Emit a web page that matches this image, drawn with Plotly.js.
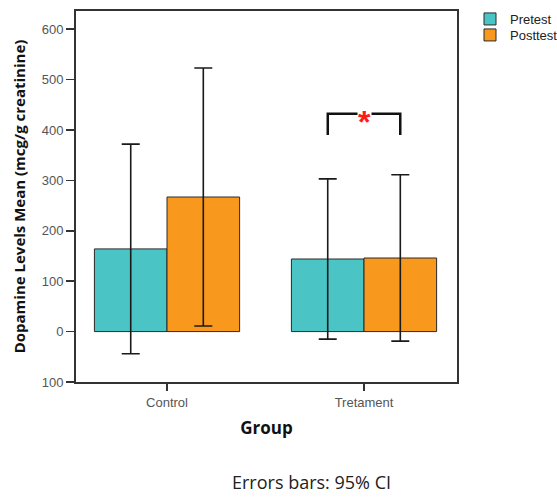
<!DOCTYPE html>
<html>
<head>
<meta charset="utf-8">
<script src="https://cdn.plot.ly/plotly-3.0.1.min.js"></script>
<style>html,body{margin:0;padding:0;background:#fff;}#chart{width:557px;height:497px;}</style>
</head>
<body>
<div id="chart"></div>
<script>
var groups = ["Control", "Tretament"];
var pretestMean = [164, 144];
var pretestCI = [208, 159];
var posttestMean = [267, 146];
var posttestCI = [256, 165];
var yTickVals = [-100, 0, 100, 200, 300, 400, 500, 600];
var yTickText = ["100", "0", "100", "200", "300", "400", "500", "600"];

var ML = 76, MR = 100, MT = 11, MB = 115, W = 557, H = 497;
var plotW = W - ML - MR, plotH = H - MT - MB;
function px(x) { return (x - ML) / plotW; }
function py(y) { return (H - MB - y) / plotH; }

var tickFont = {family: "Liberation Sans, Arial, sans-serif", size: 13, color: "#555"};
var legFont = {family: "Liberation Sans, Arial, sans-serif", size: 13, color: "#222"};
var errStyle = {type: "data", visible: true, color: "#1a1a1a", thickness: 1.6, width: 9};

var traces = [
  {type: "bar", name: "Pretest", x: groups, y: pretestMean, legend: "legend",
   marker: {color: "#4BC4C6", line: {color: "#2a2a2a", width: 1}},
   error_y: Object.assign({array: pretestCI}, errStyle)},
  {type: "bar", name: "Posttest", x: groups, y: posttestMean, legend: "legend2",
   marker: {color: "#F8991E", line: {color: "#2a2a2a", width: 1}},
   error_y: Object.assign({array: posttestCI}, errStyle)}
];

var bx0 = 1 - 0.184, bx1 = 1 + 0.184;
var layout = {
  width: W, height: H,
  margin: {l: ML, r: MR, t: MT, b: MB, autoexpand: false},
  paper_bgcolor: "#fff", plot_bgcolor: "#fff",
  barmode: "group", bargap: 0.263, bargroupgap: 0,
  showlegend: true,
  legend: {x: px(470), y: py(4), xanchor: "left", yanchor: "top", font: legFont,
           itemwidth: 30, bgcolor: "rgba(0,0,0,0)", borderwidth: 0},
  legend2: {x: px(470), y: py(20), xanchor: "left", yanchor: "top", font: legFont,
           itemwidth: 30, bgcolor: "rgba(0,0,0,0)", borderwidth: 0},
  xaxis: {type: "category", range: [-0.462, 1.472], showgrid: false, zeroline: false,
          showline: true, linecolor: "#333", linewidth: 2, mirror: true,
          ticks: "outside", ticklen: 7, tickwidth: 1.5, tickcolor: "#333",
          tickfont: tickFont,
          title: {text: "Group", font: {family: "Open Sans, sans-serif", size: 17, color: "#111", weight: "bold"}, standoff: 14}},
  yaxis: {range: [-100, 636], showgrid: false, zeroline: false,
          showline: true, linecolor: "#333", linewidth: 2, mirror: true,
          ticks: "outside", ticklen: 8, tickwidth: 1.5, tickcolor: "#333",
          tickvals: yTickVals, ticktext: yTickText, tickfont: tickFont,
          title: {text: "Dopamine Levels Mean (mcg/g creatinine)", font: {family: "Open Sans, sans-serif", size: 15, color: "#111", weight: "bold"}, standoff: 12}},
  shapes: [
    {type: "path", xref: "x", yref: "y",
     path: "M " + bx0 + ",390 L " + bx0 + ",432 L " + bx1 + ",432 L " + bx1 + ",390",
     line: {color: "#111", width: 2.5}}
  ],
  annotations: [
    {x: 1, y: 432, xref: "x", yref: "y", text: "*", showarrow: false,
     font: {family: "Liberation Sans, Arial, sans-serif", size: 32, color: "#ff1a1a", weight: "bold"},
     yshift: -8, bgcolor: "#fff", borderpad: 0},
    {x: px(311), y: py(482), xref: "paper", yref: "paper", xanchor: "center", yanchor: "middle",
     text: "Errors bars: 95% CI", showarrow: false, borderpad: 0,
     font: {family: "Open Sans, sans-serif", size: 18, color: "#222"}}
  ]
};

Plotly.newPlot("chart", traces, layout, {displayModeBar: false, staticPlot: true});
</script>
</body>
</html>
